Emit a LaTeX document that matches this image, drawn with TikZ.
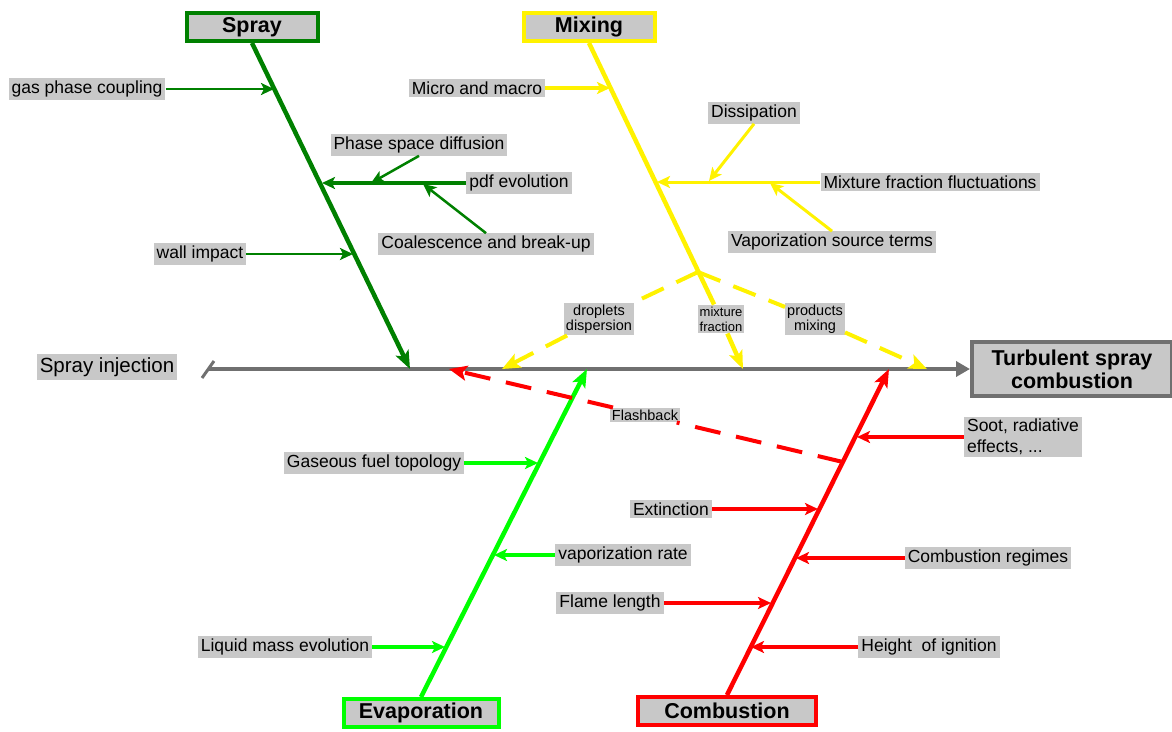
\documentclass[tikz,border=0pt]{standalone}
\usepackage{fontspec}
\setmainfont{Liberation Sans}
\usetikzlibrary{arrows.meta}
\definecolor{boxgray}{RGB}{200,200,200}
\definecolor{sprgreen}{RGB}{0,128,0}
\definecolor{evgreen}{RGB}{0,255,0}
\definecolor{spinegray}{RGB}{112,112,112}
\begin{document}
\begin{tikzpicture}[x=1pt,y=-1pt,
    lbl/.style={fill=boxgray,inner xsep=3pt,inner ysep=2.5pt,font=\fontsize{17.5}{20}\selectfont},
    small/.style={fill=boxgray,inner sep=2pt,align=center,font=\fontsize{14.5}{15}\selectfont},
    head/.style={draw,line width=4pt,fill=boxgray,minimum height=28pt,font=\fontsize{21.5}{23}\selectfont\bfseries},
    bone/.style={line width=4.5pt,-{Stealth[length=18pt,width=14pt,inset=4pt]}},
    twig/.style={line width=3.5pt,-{Stealth[length=13pt,width=12pt,inset=3pt]}},
    fork/.style={line width=4pt,dash pattern=on 24pt off 14pt,-{Stealth[length=18pt,width=15pt,inset=4pt]}}]
\useasboundingbox (0,0) rectangle (1172,731);

% categories
\node[head,draw=sprgreen,minimum width=131pt] (spray) at (252,27) {Spray};
\node[head,draw=yellow,minimum width=131pt] (mixing) at (589,27) {Mixing};
\node[head,draw=evgreen,minimum width=155pt] (evap) at (421,713) {Evaporation};
\node[head,draw=red,minimum width=178pt] (comb) at (727,711) {Combustion};
\node[head,draw=spinegray,minimum width=200pt,minimum height=54pt,align=center] (tsc) at (1072,369) {Turbulent spray\\combustion};

% spine
\node[fill=boxgray,inner sep=3pt,font=\fontsize{20.5}{22}\selectfont] (inject) at (107,367) {Spray injection};
\coordinate (spst) at (208,369);
\draw[spinegray,line width=3pt] (202,378) -- (214,361);
\draw[spinegray,line width=3.5pt,-{Triangle[length=14pt,width=15pt]}] (spst) -- (tsc.west);

% spray
\node[lbl] (gas) at (87,89) {gas phase coupling};
\node[lbl] (phase) at (419,145) {Phase space diffusion};
\node[lbl] (pdf) at (519,183) {pdf evolution};
\node[lbl] (coal) at (486,244) {Coalescence and break-up};
\node[lbl] (wall) at (200,254) {wall impact};
\coordinate (sprend) at (410,369);
\coordinate (s1) at (274,89);
\coordinate (s2) at (322,183);
\coordinate (s3) at (353,254);
\coordinate (p1) at (371,183);
\coordinate (p2) at (423,184);
\draw[bone,sprgreen] (spray.south) -- (sprend);
\draw[twig,sprgreen,line width=2.5pt] (gas.east) -- (s1);
\draw[twig,sprgreen,line width=4pt] (pdf.west) -- (s2);
\draw[twig,sprgreen,line width=2.5pt] (phase.south) -- (p1);
\draw[twig,sprgreen,line width=2.5pt] (coal.north) -- (p2);
\draw[twig,sprgreen,line width=2.5pt] (wall.east) -- (s3);

% mixing
\node[lbl] (micro) at (477,88) {Micro and macro};
\node[lbl] (diss) at (754,113) {Dissipation};
\node[lbl] (mff) at (930,182) {Mixture fraction fluctuations};
\node[lbl] (vst) at (832,242) {Vaporization source terms};
\node[small] (droplets) at (599,319) {droplets\\dispersion};
\node[small,font=\fontsize{13}{15}\selectfont] (mixfrac) at (721,319) {mixture\\fraction};
\node[small] (products) at (815,319) {products\\mixing};
\coordinate (mixend) at (743,369);
\coordinate (mixfork) at (698,272);
\coordinate (dropend) at (502,369);
\coordinate (prodend) at (927,369);
\coordinate (m1) at (610,88);
\coordinate (m2) at (657,182);
\coordinate (m3) at (709,181);
\coordinate (m4) at (770,183);
\draw[bone,yellow] (mixing.south) -- (mixfrac) -- (mixend);
\draw[fork,yellow] (mixfork) -- (droplets) -- (dropend);
\draw[fork,yellow] (mixfork) -- (products) -- (prodend);
\draw[twig,yellow] (micro.east) -- (m1);
\draw[twig,yellow,line width=3pt] (mff.west) -- (m2);
\draw[twig,yellow,line width=3pt] (diss.south) -- (m3);
\draw[twig,yellow,line width=3pt] (vst.north) -- (m4);

% evaporation
\node[lbl] (gft) at (374,463) {Gaseous fuel topology};
\node[lbl] (vrate) at (623,555) {vaporization rate};
\node[lbl] (lme) at (285,647) {Liquid mass evolution};
\coordinate (evend) at (587,369);
\coordinate (e1) at (538,463);
\coordinate (e2) at (494,555);
\coordinate (e3) at (445,647);
\draw[bone,evgreen] (evap.north) -- (evend);
\draw[twig,evgreen] (gft.east) -- (e1);
\draw[twig,evgreen] (vrate.west) -- (e2);
\draw[twig,evgreen] (lme.east) -- (e3);

% combustion
\node[lbl,align=left,font=\fontsize{17.5}{21}\selectfont] (soot) at (1023,437) {Soot, radiative\\effects, ...};
\node[lbl] (ext) at (671,509) {Extinction};
\node[lbl] (creg) at (988,558) {Combustion regimes};
\node[lbl] (flame) at (610,603) {Flame length};
\node[lbl] (height) at (929,647) {Height~~of ignition};
\node[small] (flash) at (645,415) {Flashback};
\coordinate (combend) at (889,369);
\coordinate (flashst) at (843,462);
\coordinate (flashend) at (449,369);
\coordinate (c1) at (857,437);
\coordinate (c2) at (818,509);
\coordinate (c3) at (796,558);
\coordinate (c4) at (771,603);
\coordinate (c5) at (751,647);
\draw[bone,red] (comb.north) -- (combend);
\draw[fork,red,dash pattern=on 26pt off 16pt] (flashst) -- (flash) -- (flashend);
\draw[twig,red] (soot.west) -- (c1);
\draw[twig,red] (ext.east) -- (c2);
\draw[twig,red] (creg.west) -- (c3);
\draw[twig,red] (flame.east) -- (c4);
\draw[twig,red] (height.west) -- (c5);
\end{tikzpicture}
\end{document}
